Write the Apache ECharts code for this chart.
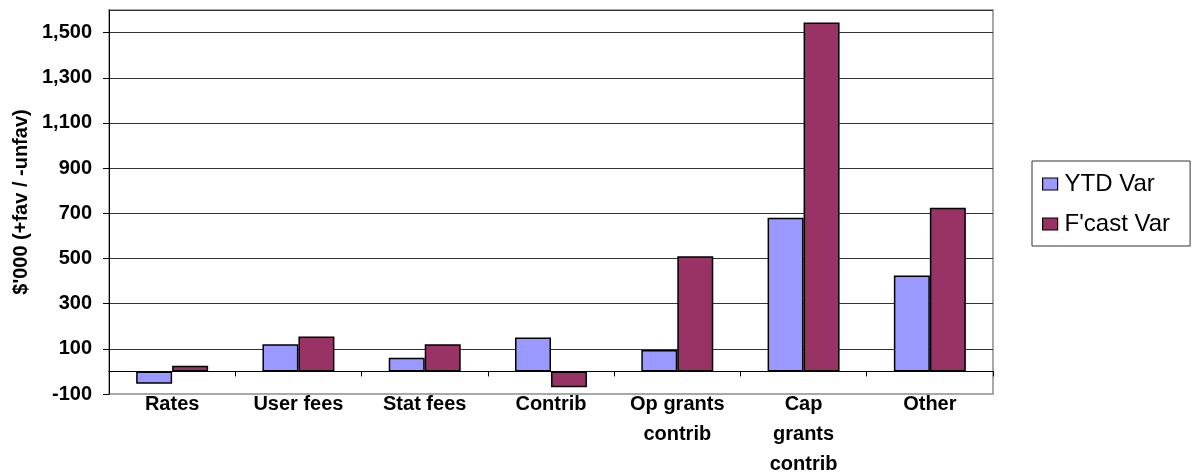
<!DOCTYPE html>
<html>
<head>
    <meta charset="utf-8" />
    <title>YTD / F'cast variance</title>
    <script src="https://cdn.jsdelivr.net/npm/echarts@6/dist/echarts.min.js"></script>
    <style>
        html, body { margin: 0; padding: 0; background: #fff; }
        #chart { width: 1192px; height: 474px; }
    </style>
</head>
<body>
    <div id="chart"></div>
    <script>
        // data
        var categories = ['Rates', 'User fees', 'Stat fees', 'Contrib', 'Op grants\ncontrib', 'Cap\ngrants\ncontrib', 'Other'];
        var ytdVar = [-55, 120, 60, 150, 95, 680, 425];
        var fcastVar = [25, 155, 120, -70, 510, 1545, 725];
        var seriesNames = ['YTD Var', "F'cast Var"];

        var myChart = echarts.init(document.getElementById('chart'));
        var font = 'Arial, "Liberation Sans", sans-serif';

        var option = {
            animation: false,
            grid: {
                show: true,
                left: 109,
                right: 199,
                top: 10,
                bottom: 80,
                containLabel: false,
                outerBoundsMode: 'none',
                borderColor: '#8c8c8c',
                borderWidth: 1.5
            },
            legend: {
                orient: 'vertical',
                left: 1032,
                top: 161,
                width: 156,
                padding: [11, 20, 10, 10],
                itemGap: 16,
                itemWidth: 15,
                itemHeight: 12,
                icon: 'rect',
                itemStyle: { borderColor: '#000', borderWidth: 1.2 },
                borderColor: '#333',
                borderWidth: 1,
                textStyle: { fontFamily: font, fontSize: 24, color: '#000', padding: [0, 0, 0, 2] },
                data: seriesNames
            },
            xAxis: [{
                // labels at the bottom of the plot
                type: 'category',
                data: categories,
                position: 'bottom',
                axisLine: { onZero: false, show: false },
                axisTick: { show: false },
                axisLabel: {
                    interval: 0,
                    margin: -5,
                    fontFamily: font,
                    fontSize: 20,
                    fontWeight: 'bold',
                    color: '#000',
                    lineHeight: 30
                }
            }, {
                // category axis line drawn at zero
                type: 'category',
                data: categories,
                position: 'top',
                axisLine: { onZero: true, lineStyle: { color: '#000', width: 1 } },
                axisTick: { show: true, inside: true, length: 5, lineStyle: { color: '#000' } },
                axisLabel: { show: false }
            }],
            yAxis: {
                type: 'value',
                min: -100,
                max: 1600,
                interval: 200,
                name: "$'000 (+fav / -unfav)",
                nameLocation: 'middle',
                nameGap: 76,
                nameRotate: 90,
                nameTextStyle: { fontFamily: font, fontSize: 20, fontWeight: 'bold', color: '#000' },
                axisLine: { show: true, lineStyle: { color: '#000', width: 1 } },
                axisTick: { show: true, length: 6, lineStyle: { color: '#000' } },
                axisLabel: {
                    showMaxLabel: false,
                    margin: 17,
                    fontFamily: font,
                    fontSize: 20,
                    fontWeight: 'bold',
                    color: '#000',
                    formatter: function (v) {
                        if (v >= 1600) return '';
                        return v.toLocaleString('en-US');
                    }
                },
                splitLine: { show: true, showMinLine: false, lineStyle: { color: '#333', width: 1 } }
            },
            series: [{
                name: seriesNames[0],
                type: 'bar',
                data: ytdVar,
                barGap: '0%',
                barCategoryGap: '43%',
                itemStyle: { color: '#9999ff', borderColor: '#000', borderWidth: 1.5 }
            }, {
                name: seriesNames[1],
                type: 'bar',
                data: fcastVar,
                barGap: '0%',
                barCategoryGap: '43%',
                itemStyle: { color: '#993366', borderColor: '#000', borderWidth: 1.5 }
            }]
        };
        myChart.setOption(option);
    </script>
</body>
</html>
